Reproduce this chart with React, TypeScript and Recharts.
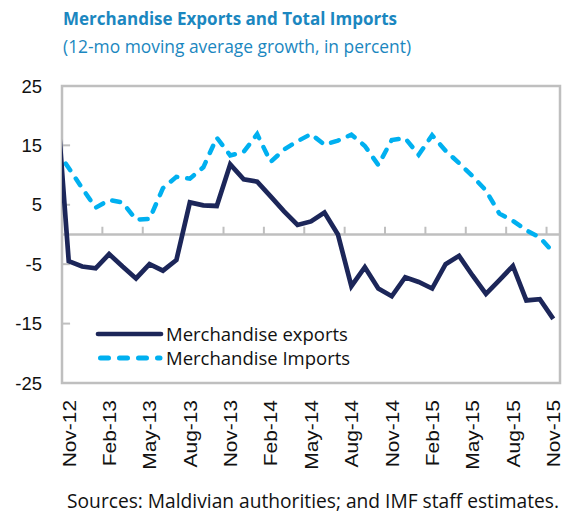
import React from 'react';
import {
  LineChart, Line, XAxis, YAxis, ReferenceLine, ReferenceArea, Legend,
} from 'recharts';

// months, first one (Oct-12) sits just left of the plot and is clipped
const months = [
  'Oct-12', 'Nov-12', 'Dec-12', 'Jan-13', 'Feb-13', 'Mar-13', 'Apr-13', 'May-13', 'Jun-13', 'Jul-13',
  'Aug-13', 'Sep-13', 'Oct-13', 'Nov-13', 'Dec-13', 'Jan-14', 'Feb-14', 'Mar-14', 'Apr-14', 'May-14',
  'Jun-14', 'Jul-14', 'Aug-14', 'Sep-14', 'Oct-14', 'Nov-14', 'Dec-14', 'Jan-15', 'Feb-15', 'Mar-15',
  'Apr-15', 'May-15', 'Jun-15', 'Jul-15', 'Aug-15', 'Sep-15', 'Oct-15', 'Nov-15',
];

const exportsGrowth = [
  26.0, -4.5, -5.4, -5.7, -3.3, -5.4, -7.4, -5.0, -6.1, -4.3,
  5.4, 4.9, 4.8, 11.8, 9.3, 8.9, 6.4, 3.9, 1.6, 2.2,
  3.7, 0.0, -8.7, -5.5, -9.1, -10.4, -7.2, -8.0, -9.1, -5.0,
  -3.6, -6.9, -10.0, -7.7, -5.3, -11.1, -10.9, -14.2,
];

const importsGrowth = [
  14.4, 11.2, 7.8, 4.5, 5.8, 5.4, 2.5, 2.6, 7.8, 9.7,
  9.4, 11.3, 16.3, 13.3, 13.9, 16.9, 12.2, 14.3, 15.7, 16.9,
  15.1, 15.8, 16.8, 14.9, 11.7, 15.9, 16.2, 13.4, 16.7, 14.1,
  12.0, 9.8, 7.4, 3.5, 2.3, 0.7, -0.5, -3.0,
];

const tickLabels = [
  'Nov-12', 'Feb-13', 'May-13', 'Aug-13', 'Nov-13', 'Feb-14', 'May-14',
  'Aug-14', 'Nov-14', 'Feb-15', 'May-15', 'Aug-15', 'Nov-15',
];

const yTicks = [-25, -15, -5, 5, 15, 25];

const data = months.map((m, k) => ({
  i: k - 1,
  month: m,
  exports: exportsGrowth[k],
  imports: importsGrowth[k],
}));

const xTicks = tickLabels.map((t) => months.indexOf(t) - 1);
const first = xTicks[0];

const FONT = '"Open Sans", "Noto Sans", sans-serif';
const AXIS_FONT = '"Liberation Sans", Arial, sans-serif';
const GRAY = '#bfbfbf';
const NAVY = '#1c2659';
const CYAN = '#00b0f0';

const MonthTick = (props: any) => {
  const { x, y, payload } = props;
  const label = months[payload.value + 1];
  return (
    <g transform={`translate(${x},${y}) rotate(-90) scale(1.1,1)`}>
      <text x={0} y={0} textAnchor="end" dy="0.36em" fontSize={19} fontFamily={AXIS_FONT} fill="#111">
        {label}
      </text>
    </g>
  );
};

const LegendBox = () => (
  <div style={{ fontFamily: FONT, fontSize: 18.5, color: '#111', lineHeight: '24px', textAlign: 'left' }}>
    <div style={{ display: 'flex', alignItems: 'center' }}>
      <svg width={72} height={10}>
        <line x1={4} y1={5} x2={67} y2={5} stroke={NAVY} strokeWidth={4.7} strokeLinecap="round" />
      </svg>
      <span>Merchandise exports</span>
    </div>
    <div style={{ display: 'flex', alignItems: 'center' }}>
      <svg width={72} height={10}>
        <line x1={6.5} y1={5} x2={66} y2={5} stroke={CYAN} strokeWidth={5} strokeDasharray="8 11" strokeLinecap="round" />
      </svg>
      <span>Merchandise Imports</span>
    </div>
  </div>
);

export default function App() {
  return (
    <div style={{ position: 'absolute', left: 0, top: 0, width: 567, height: 518, background: '#fff' }}>
      <div style={{ position: 'absolute', left: 63, top: 6, fontFamily: FONT, color: '#1b87c0' }}>
        <div style={{ fontSize: 17, fontWeight: 700, lineHeight: '26px' }}>Merchandise Exports and Total Imports</div>
        <div style={{ fontSize: 17.4, lineHeight: '28px' }}>(12-mo moving average growth, in percent)</div>
      </div>
      <LineChart
        width={567}
        height={518}
        data={data}
        margin={{ top: 80, right: 7, left: 0, bottom: 0 }}
      >
        <XAxis
          dataKey="i"
          type="number"
          domain={[-0.5, 36.5]}
          allowDataOverflow
          ticks={xTicks}
          interval={0}
          axisLine={false}
          tickLine={false}
          tickSize={0}
          tickMargin={17}
          height={135}
          tick={<MonthTick />}
        />
        <YAxis
          type="number"
          domain={[-25, 25]}
          ticks={yTicks}
          interval={0}
          axisLine={false}
          tickLine={false}
          tickSize={0}
          tickMargin={20}
          width={62}
          tick={{ fontSize: 18.5, fontFamily: AXIS_FONT, fill: '#111' }}
        />
        <ReferenceArea x1={-0.5} x2={36.5} y1={-25} y2={25} fill="none" stroke={GRAY} strokeWidth={2.5} ifOverflow="visible" />
        <ReferenceLine y={0} stroke={GRAY} strokeWidth={2.5} />
        {xTicks.filter((t) => t !== first).map((t) => (
          <ReferenceLine key={`xt${t}`} segment={[{ x: t - 0.5, y: 0 }, { x: t - 0.5, y: 1.3 }]} stroke={GRAY} strokeWidth={2} />
        ))}
        {yTicks.filter((v) => v !== -25 && v !== 25).map((v) => (
          <ReferenceLine key={`yt${v}`} segment={[{ x: -0.5, y: v }, { x: 0.1, y: v }]} stroke={GRAY} strokeWidth={2} />
        ))}
        <Legend
          verticalAlign="middle"
          align="center"
          layout="horizontal"
          wrapperStyle={{ left: 94, top: 322, width: 320 }}
          content={<LegendBox />}
        />
        <Line
          type="linear"
          dataKey="imports"
          stroke={CYAN}
          strokeWidth={4.5}
          strokeDasharray="8 10"
          strokeLinecap="round"
          dot={false}
          isAnimationActive={false}
        />
        <Line
          type="linear"
          dataKey="exports"
          stroke={NAVY}
          strokeWidth={4.7}
          strokeLinejoin="miter"
          dot={false}
          isAnimationActive={false}
        />
      </LineChart>
      <div style={{ position: 'absolute', left: 0, width: 567, top: 487, textAlign: 'center', paddingLeft: 59, boxSizing: 'border-box', fontFamily: FONT, fontSize: 19.2, color: '#111', whiteSpace: 'nowrap' }}>
        Sources: Maldivian authorities; and IMF staff estimates.
      </div>
    </div>
  );
}
